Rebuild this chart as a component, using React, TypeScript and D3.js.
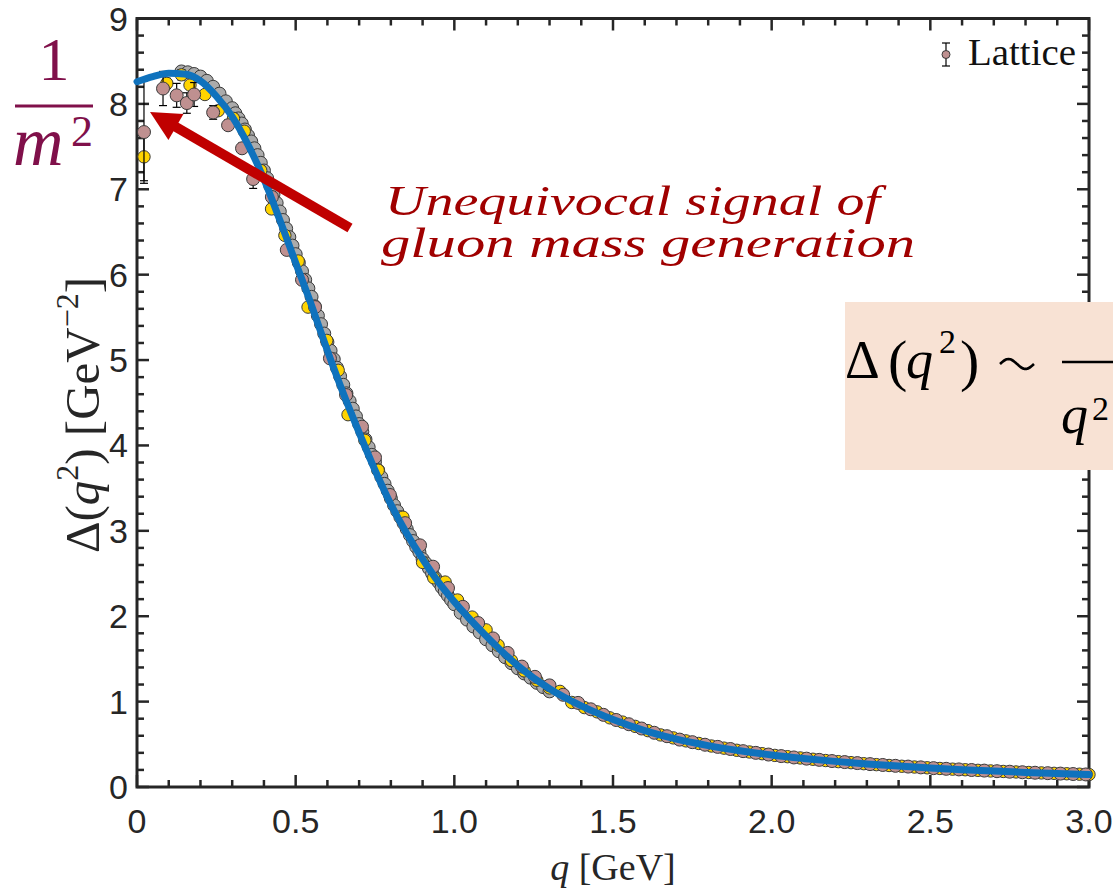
import React from 'react';
import * as d3 from 'd3';

// ---- data ----
const curveQ = [0, 0.05, 0.1, 0.15, 0.2, 0.25, 0.3, 0.35, 0.4, 0.45, 0.5, 0.55, 0.6, 0.65, 0.7, 0.75, 0.8, 0.85, 0.9, 0.95, 1.0, 1.1, 1.2, 1.3, 1.4, 1.5, 1.6, 1.7, 1.8, 1.9, 2.0, 2.1, 2.2, 2.3, 2.4, 2.5, 2.6, 2.7, 2.8, 2.9, 3.0];
const curveV = [8.26, 8.32, 8.36, 8.35, 8.27, 8.09, 7.85, 7.52, 7.12, 6.64, 6.14, 5.64, 5.11, 4.61, 4.15, 3.71, 3.31, 2.97, 2.67, 2.40, 2.17, 1.77, 1.42, 1.15, 0.95, 0.79, 0.66, 0.56, 0.485, 0.425, 0.375, 0.335, 0.30, 0.27, 0.245, 0.222, 0.203, 0.186, 0.171, 0.158, 0.146];

const grayQ = [0.14, 0.16, 0.18, 0.20, 0.22, 0.24, 0.26, 0.28, 0.30, 0.31, 0.32, 0.33, 0.34, 0.35, 0.36, 0.37, 0.38, 0.39, 0.40, 0.41, 0.42, 0.43, 0.44, 0.45, 0.46, 0.47, 0.48, 0.49, 0.50, 0.51, 0.52, 0.53, 0.54, 0.55, 0.56, 0.57, 0.58, 0.59, 0.60, 0.61, 0.62, 0.63, 0.64, 0.65, 0.66, 0.67, 0.68, 0.69, 0.70, 0.71, 0.72, 0.73, 0.74, 0.75, 0.76, 0.77, 0.78, 0.79, 0.80, 0.81, 0.82, 0.83, 0.84, 0.85, 0.86, 0.87, 0.88, 0.89, 0.90, 0.91, 0.92, 0.93, 0.94, 0.95, 0.96, 0.97, 0.98, 0.99, 1.00, 1.02, 1.04, 1.06, 1.08, 1.10, 1.12, 1.14, 1.16, 1.18, 1.20, 1.22, 1.24, 1.26, 1.28, 1.30];
const grayV = [8.38, 8.37, 8.35, 8.32, 8.27, 8.20, 8.12, 8.03, 7.95, 7.89, 7.83, 7.77, 7.70, 7.63, 7.56, 7.48, 7.40, 7.31, 7.22, 7.13, 7.04, 6.94, 6.84, 6.74, 6.64, 6.54, 6.44, 6.34, 6.24, 6.14, 6.04, 5.94, 5.84, 5.74, 5.63, 5.52, 5.42, 5.31, 5.21, 5.11, 5.01, 4.91, 4.81, 4.71, 4.61, 4.52, 4.43, 4.34, 4.25, 4.16, 4.07, 3.98, 3.89, 3.81, 3.71, 3.63, 3.55, 3.47, 3.38, 3.30, 3.23, 3.16, 3.09, 3.02, 2.95, 2.88, 2.81, 2.75, 2.67, 2.62, 2.56, 2.50, 2.45, 2.40, 2.34, 2.29, 2.24, 2.19, 2.14, 2.04, 1.96, 1.88, 1.81, 1.73, 1.66, 1.59, 1.52, 1.45, 1.39, 1.33, 1.28, 1.22, 1.17, 1.12];
const GRAY_ERR = 0.03;

const yellowQ = [0.022, 0.094, 0.14, 0.167, 0.214, 0.256, 0.304, 0.338, 0.39, 0.424, 0.466, 0.508, 0.539, 0.598, 0.634, 0.665, 0.718, 0.76, 0.838, 0.90, 0.935, 0.971, 1.01, 1.056, 1.10, 1.138, 1.18, 1.22, 1.26, 1.30, 1.333, 1.37, 1.41, 1.45, 1.49, 1.53, 1.57, 1.61, 1.65, 1.69, 1.73, 1.77, 1.81, 1.85, 1.89, 1.93, 1.97, 2.01, 2.05, 2.09, 2.13, 2.17, 2.21, 2.25, 2.29, 2.33, 2.37, 2.41, 2.45, 2.49, 2.53, 2.57, 2.61, 2.65, 2.69, 2.73, 2.77, 2.81, 2.85, 2.89, 2.93, 2.97, 3.00];
const yellowV = [7.38, 8.24, 8.34, 8.22, 8.11, 7.92, 7.83, 7.68, 7.22, 6.77, 6.46, 6.16, 5.62, 5.23, 4.88, 4.36, 4.06, 3.71, 3.16, 2.63, 2.45, 2.40, 2.19, 1.99, 1.84, 1.66, 1.48, 1.36, 1.25, 1.16, 1.12, 0.99, 0.93, 0.88, 0.81, 0.76, 0.71, 0.66, 0.61, 0.575, 0.54, 0.51, 0.48, 0.455, 0.43, 0.41, 0.39, 0.37, 0.355, 0.34, 0.325, 0.31, 0.297, 0.285, 0.273, 0.262, 0.252, 0.243, 0.234, 0.225, 0.217, 0.209, 0.202, 0.195, 0.188, 0.182, 0.176, 0.17, 0.165, 0.16, 0.155, 0.15, 0.146];
const yellowErr = [0.28, 0.06, 0.06, 0.05, 0.05, 0.05, 0.05, 0.05, 0.05, 0.05, 0.05, 0.05, 0.04, 0.04, 0.04, 0.04, 0.04, 0.04, 0.04, 0.03, 0.03, 0.03, 0.03, 0.03, 0.03, 0.03, 0.02, 0.02, 0.02, 0.02, 0.02, 0.02, 0.02, 0.02, 0.01, 0.01, 0.01, 0.01, 0.01, 0.01, 0.01, 0.01, 0.01, 0.01, 0.01, 0.01, 0.01, 0.01, 0.01, 0.01, 0.01, 0.01, 0.01, 0.01, 0.01, 0.01, 0.01, 0.01, 0.01, 0.01, 0.01, 0.01, 0.01, 0.01, 0.01, 0.01, 0.01, 0.01, 0.01, 0.01, 0.01, 0.01, 0.01];

const pinkQ = [0.022, 0.082, 0.125, 0.157, 0.18, 0.24, 0.287, 0.331, 0.366, 0.425, 0.472, 0.52, 0.561, 0.608, 0.659, 0.709, 0.75, 0.797, 0.845, 0.892, 0.933, 0.98, 1.027, 1.075, 1.122, 1.168, 1.213, 1.254, 1.30, 1.343, 1.39, 1.43, 1.47, 1.51, 1.55, 1.59, 1.63, 1.67, 1.71, 1.75, 1.79, 1.83, 1.87, 1.91, 1.95, 1.99, 2.03, 2.07, 2.11, 2.15, 2.19, 2.23, 2.27, 2.31, 2.35, 2.39, 2.43, 2.47, 2.51, 2.55, 2.59, 2.63, 2.67, 2.71, 2.75, 2.79, 2.83, 2.87, 2.91, 2.95, 2.99];
const pinkV = [7.67, 8.18, 8.10, 8.01, 8.11, 7.90, 7.75, 7.48, 7.12, 6.91, 6.29, 5.94, 5.62, 5.02, 4.59, 4.22, 3.86, 3.42, 3.09, 2.83, 2.58, 2.33, 2.11, 1.92, 1.74, 1.57, 1.41, 1.29, 1.19, 1.08, 0.985, 0.91, 0.845, 0.785, 0.735, 0.685, 0.635, 0.595, 0.555, 0.525, 0.495, 0.47, 0.445, 0.42, 0.40, 0.38, 0.362, 0.346, 0.332, 0.318, 0.304, 0.292, 0.28, 0.268, 0.258, 0.248, 0.239, 0.23, 0.221, 0.213, 0.206, 0.199, 0.192, 0.185, 0.179, 0.173, 0.167, 0.162, 0.157, 0.152, 0.147];
const pinkErr = [0.6, 0.2, 0.14, 0.12, 0.14, 0.08, 0.06, 0.06, 0.11, 0.06, 0.05, 0.05, 0.05, 0.05, 0.05, 0.05, 0.04, 0.04, 0.04, 0.04, 0.04, 0.04, 0.03, 0.03, 0.03, 0.03, 0.02, 0.02, 0.02, 0.02, 0.02, 0.02, 0.02, 0.01, 0.01, 0.01, 0.01, 0.01, 0.01, 0.01, 0.01, 0.01, 0.01, 0.01, 0.01, 0.01, 0.01, 0.01, 0.01, 0.01, 0.01, 0.01, 0.01, 0.01, 0.01, 0.01, 0.01, 0.01, 0.01, 0.01, 0.01, 0.01, 0.01, 0.01, 0.01, 0.01, 0.01, 0.01, 0.01, 0.01, 0.01];

const xMajorTicks = [0, 0.5, 1.0, 1.5, 2.0, 2.5, 3.0];
const xTickLabels = ['0', '0.5', '1.0', '1.5', '2.0', '2.5', '3.0'];
const yMajorTicks = [0, 1, 2, 3, 4, 5, 6, 7, 8, 9];
const yTickLabels = ['0', '1', '2', '3', '4', '5', '6', '7', '8', '9'];
const legendLabel = 'Lattice';
const annotationLines = ['Unequivocal signal of', 'gluon mass  generation'];

const W = 1113;
const H = 889;
const AX = '#262626';
const SERIF = "'Liberation Serif', 'DejaVu Serif', serif";
const SANS = "'Liberation Sans', Arial, Helvetica, sans-serif";

export default function App() {
  const x = d3.scaleLinear().domain([0, 3]).range([137, 1089]);
  const y = d3.scaleLinear().domain([0, 9]).range([787, 18.5]);
  const [x0, x1] = x.range();
  const [y0, y1] = y.range();

  const xMinor = d3.range(0, 3.0001, 0.1).filter((v) => Math.abs(v * 2 - Math.round(v * 2)) > 1e-6);
  const yMinor = d3.range(0, 9.0001, 0.2).filter((v) => Math.abs(v - Math.round(v)) > 1e-6);

  const line = d3
    .line<number>()
    .x((_, i) => x(curveQ[i]))
    .y((d) => y(d))
    .curve(d3.curveMonotoneX);

  const errBars = (qs: number[], vs: number[], es: number[] | number, key: string) =>
    qs.map((q, i) => {
      const e = typeof es === 'number' ? es : es[i];
      const cx = x(q);
      const ya = y(vs[i] + e);
      const yb = y(vs[i] - e);
      return (
        <g key={key + i} stroke="#000" strokeWidth={1.2}>
          <line x1={cx} x2={cx} y1={ya} y2={yb} />
          <line x1={cx - 4} x2={cx + 4} y1={ya} y2={ya} />
          <line x1={cx - 4} x2={cx + 4} y1={yb} y2={yb} />
        </g>
      );
    });

  const dots = (qs: number[], vs: number[], fill: string, r: number, key: string) =>
    qs.map((q, i) => (
      <circle key={key + i} cx={x(q)} cy={y(vs[i])} r={r} fill={fill} stroke="#3a3a3a" strokeWidth={1} />
    ));

  // arrow geometry (annotation)
  const tail = [350, 228];
  const tip = [150, 112];
  const dx = tip[0] - tail[0];
  const dy = tip[1] - tail[1];
  const len = Math.hypot(dx, dy);
  const ux = dx / len;
  const uy = dy / len;
  const hl = 30;
  const hw = 15;
  const bx = tip[0] - ux * hl;
  const by = tip[1] - uy * hl;
  const head = `${tip[0]},${tip[1]} ${bx - uy * hw},${by + ux * hw} ${bx + uy * hw},${by - ux * hw}`;

  // tilde path for the formula
  const tildePts = d3.range(0, 1.0001, 0.05).map((t) => [1000 + 34 * t, 364 - 5 * Math.sin(t * 2 * Math.PI)] as [number, number]);
  const tilde = d3.line().curve(d3.curveBasis)(tildePts) || '';

  return (
    <svg width={W} height={H} style={{ position: 'absolute', left: 0, top: 0, background: '#fff' }}>
      <rect x={0} y={0} width={W} height={H} fill="#fff" />

      {/* axes frame */}
      <rect x={x0} y={y1} width={x1 - x0} height={y0 - y1} fill="none" stroke={AX} strokeWidth={3} />
      {xMajorTicks.map((t) => (
        <g key={'xM' + t} stroke={AX} strokeWidth={2.5}>
          <line x1={x(t)} x2={x(t)} y1={y0} y2={y0 - 12} />
          <line x1={x(t)} x2={x(t)} y1={y1} y2={y1 + 12} />
        </g>
      ))}
      {xMinor.map((t) => (
        <g key={'xm' + t} stroke={AX} strokeWidth={2.5}>
          <line x1={x(t)} x2={x(t)} y1={y0} y2={y0 - 7} />
          <line x1={x(t)} x2={x(t)} y1={y1} y2={y1 + 7} />
        </g>
      ))}
      {yMajorTicks.map((t) => (
        <g key={'yM' + t} stroke={AX} strokeWidth={2.5}>
          <line x1={x0} x2={x0 + 12} y1={y(t)} y2={y(t)} />
          <line x1={x1} x2={x1 - 12} y1={y(t)} y2={y(t)} />
        </g>
      ))}
      {yMinor.map((t) => (
        <g key={'ym' + t} stroke={AX} strokeWidth={2.5}>
          <line x1={x0} x2={x0 + 7} y1={y(t)} y2={y(t)} />
          <line x1={x1} x2={x1 - 7} y1={y(t)} y2={y(t)} />
        </g>
      ))}

      {/* tick labels */}
      {xMajorTicks.map((t, i) => (
        <text key={'xl' + t} x={x(t)} y={833} textAnchor="middle" fontFamily={SANS} fontSize={34} fill={AX}>
          {xTickLabels[i]}
        </text>
      ))}
      {yMajorTicks.map((t, i) => (
        <text key={'yl' + t} x={128} y={y(t) + 12} textAnchor="end" fontFamily={SANS} fontSize={34} fill={AX}>
          {yTickLabels[i]}
        </text>
      ))}

      {/* axis titles */}
      <text x={(x0 + x1) / 2} y={880} textAnchor="middle" fontFamily={SERIF} fontSize={38} fill={AX}>
        <tspan fontStyle="italic">q</tspan>
        <tspan> [GeV]</tspan>
      </text>
      <text
        transform={`translate(99, 415) rotate(-90)`}
        textAnchor="middle"
        fontFamily={SERIF}
        fontSize={49}
        fill={AX}
      >
        <tspan>Δ(</tspan>
        <tspan fontStyle="italic">q</tspan>
        <tspan fontSize={32} dy={-21}>2</tspan>
        <tspan dy={21}>)  [GeV</tspan>
        <tspan fontSize={32} dy={-21}>−2</tspan>
        <tspan dy={21}>]</tspan>
      </text>

      {/* data */}
      {errBars(grayQ, grayV, GRAY_ERR, 'ge')}
      {dots(grayQ, grayV, '#ababab', 6.5, 'g')}
      {errBars(yellowQ, yellowV, yellowErr, 'ye')}
      {dots(yellowQ, yellowV, '#ffd400', 6.2, 'y')}
      {errBars(pinkQ, pinkV, pinkErr, 'pe')}
      {dots(pinkQ, pinkV, '#bf9090', 6.5, 'p')}
      <path d={line(curveV) || ''} fill="none" stroke="#0f72bd" strokeWidth={7} strokeLinecap="round" />

      {/* legend */}
      <g>
        <line x1={946} x2={946} y1={43} y2={66} stroke="#000" strokeWidth={1.2} />
        <line x1={942} x2={950} y1={43} y2={43} stroke="#000" strokeWidth={1.2} />
        <line x1={942} x2={950} y1={66} y2={66} stroke="#000" strokeWidth={1.2} />
        <circle cx={946} cy={54.5} r={4} fill="#bf9090" stroke="#3a3a3a" strokeWidth={1} />
        <text x={968} y={65} fontFamily={SERIF} fontSize={37} fill="#111" textLength={108} lengthAdjust="spacingAndGlyphs">
          {legendLabel}
        </text>
      </g>

      {/* 1/m^2 */}
      <g fill="#80104a" fontFamily={SERIF}>
        <text x={54} y={80} textAnchor="middle" fontSize={62}>1</text>
        <line x1={15} x2={93} y1={106} y2={106} stroke="#80104a" strokeWidth={3} />
        <text x={13} y={165} fontSize={70} fontStyle="italic">m</text>
        <text x={71} y={146} fontSize={44}>2</text>
      </g>

      {/* arrow */}
      <line x1={tail[0]} y1={tail[1]} x2={bx + ux * 2} y2={by + uy * 2} stroke="#c00000" strokeWidth={10} />
      <polygon points={head} fill="#c00000" />

      {/* annotation text */}
      <g fill="#a00000" fontFamily={SERIF} fontStyle="italic" fontSize={42}>
        <text x={385} y={215} textLength={495} lengthAdjust="spacingAndGlyphs">{annotationLines[0]}</text>
        <text x={381} y={257} textLength={534} lengthAdjust="spacingAndGlyphs">{annotationLines[1]}</text>
      </g>

      {/* formula box */}
      <rect x={845} y={302} width={W - 845} height={168} fill="#f8e2d4" />
      <g fill="#000" fontFamily={SERIF} fontSize={54}>
        <text x={845} y={378}>Δ</text>
        <text x={888} y={380} fontSize={58}>(</text>
        <text x={906} y={378} fontStyle="italic">q</text>
        <text x={939} y={353} fontSize={34}>2</text>
        <text x={960} y={380} fontSize={58}>)</text>
        <path d={tilde} fill="none" stroke="#000" strokeWidth={2.6} />
        <line x1={1062} x2={W} y1={362} y2={362} stroke="#000" strokeWidth={2.5} />
        <text x={1061} y={433} fontStyle="italic">q</text>
        <text x={1092} y={420} fontSize={34}>2</text>
      </g>
    </svg>
  );
}
